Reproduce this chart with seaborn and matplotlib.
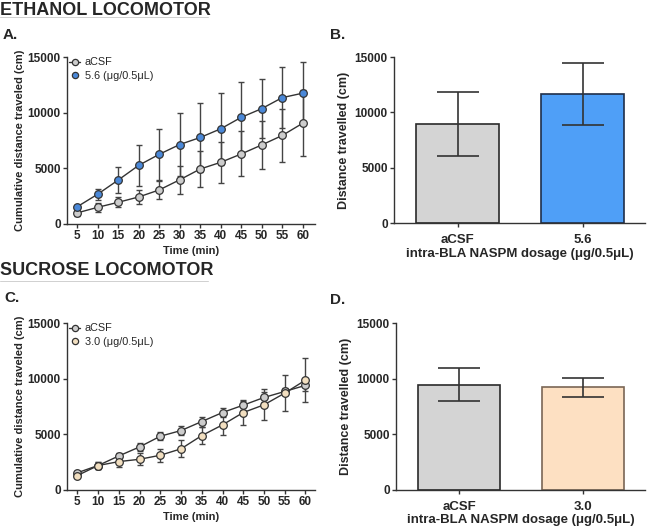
"""
Locomotor figure: cumulative distance (lines) and total distance (bars).
"""

import matplotlib

matplotlib.use("Agg")
import matplotlib.pyplot as plt
import pandas as pd
import seaborn as sns
from matplotlib.lines import Line2D

# ---- data ----
time_min = [5, 10, 15, 20, 25, 30, 35, 40, 45, 50, 55, 60]

eth_acsf_mean = [1000, 1500, 1950, 2430, 3060, 3970, 4940, 5540, 6290, 7100, 7950, 9050]
eth_acsf_sem = [250, 400, 450, 650, 800, 1250, 1660, 1870, 2020, 2140, 2380, 2950]
eth_naspm_mean = [1550, 2680, 3950, 5270, 6260, 7140, 7770, 8550, 9580, 10360, 11350, 11750]
eth_naspm_sem = [150, 480, 1180, 1830, 2280, 2800, 3130, 3250, 3130, 2680, 2710, 2800]

suc_acsf_mean = [1550, 2200, 3060, 3870, 4830, 5340, 6150, 6960, 7620, 8310, 8850, 9400]
suc_acsf_sem = [150, 300, 250, 350, 350, 400, 450, 400, 400, 450, 300, 500]
suc_naspm_mean = [1300, 2200, 2550, 2760, 3120, 3700, 4890, 5850, 6960, 7650, 8700, 9870]
suc_naspm_sem = [150, 300, 450, 550, 600, 750, 800, 900, 1150, 1400, 1600, 1950]

eth_groups = ["aCSF", "5.6"]
eth_bar_mean = [8950, 11650]
eth_bar_sd = [2900, 2800]

suc_groups = ["aCSF", "3.0"]
suc_bar_mean = [9450, 9210]
suc_bar_sd = [1470, 870]

y_ticks = [0, 5000, 10000, 15000]
x_ticks = time_min

DARK = "#333333"
GREY_FACE = "#cdcdcd"
BLUE_FACE = "#4a88d8"
CREAM_FACE = "#f2dfc0"


def style_axis(ax):
    sns.despine(ax=ax)
    for side in ("left", "bottom"):
        ax.spines[side].set_color(DARK)
        ax.spines[side].set_linewidth(1.0)
    ax.set_ylim(0, 15000)
    ax.set_yticks(y_ticks)
    ax.tick_params(axis="both", length=3, width=1, color=DARK, pad=1.5,
                   labelsize=8.5)
    for lab in ax.get_xticklabels() + ax.get_yticklabels():
        lab.set_fontweight("bold")


def plot_cumulative(ax, acsf_mean, acsf_sem, drug_mean, drug_sem, drug_face,
                    drug_label, xmax):
    for mean, sem in ((acsf_mean, acsf_sem), (drug_mean, drug_sem)):
        ax.errorbar(time_min, mean, yerr=sem, fmt="none", ecolor="#444444",
                    elinewidth=1.0, capsize=2.2, capthick=1.0, zorder=1.5)
    df = pd.DataFrame({"time": time_min, "acsf": acsf_mean, "drug": drug_mean})
    sns.lineplot(data=df, x="time", y="acsf", ax=ax, color=DARK, lw=1.0,
                 marker="o", markersize=5.5, markerfacecolor=GREY_FACE,
                 markeredgecolor=DARK, markeredgewidth=0.9, zorder=3)
    sns.lineplot(data=df, x="time", y="drug", ax=ax, color=DARK, lw=1.0,
                 marker="o", markersize=5.5, markerfacecolor=drug_face,
                 markeredgecolor=DARK, markeredgewidth=0.9, zorder=4)
    ax.set_xlim(2.5, xmax)
    ax.set_xticks(x_ticks)
    style_axis(ax)
    ax.set_xlabel("Time (min)", fontsize=8, fontweight="bold", labelpad=3)
    ax.set_ylabel("Cumulative distance traveled (cm)", fontsize=8,
                  fontweight="bold", labelpad=2)
    handles = [
        Line2D([], [], color=DARK, lw=1.0, marker="o", markersize=4.5,
               markerfacecolor=GREY_FACE, markeredgecolor=DARK,
               markeredgewidth=0.9),
        Line2D([], [], color="none", marker="o", markersize=4.5,
               markerfacecolor=drug_face, markeredgecolor=DARK,
               markeredgewidth=0.9),
    ]
    ax.legend(handles, ["aCSF", drug_label], loc="upper left",
              bbox_to_anchor=(0.0, 1.01), frameon=False, fontsize=7.8,
              handlelength=1.0, handletextpad=0.45, labelspacing=0.3,
              borderaxespad=0.0, borderpad=0.2)


def plot_bars(ax, groups, means, sds, faces, edges):
    sns.barplot(x=groups, y=means, hue=groups, palette=faces, legend=False,
                saturation=1, width=0.667, linewidth=1.2, ax=ax, zorder=2)
    for patch, ec in zip(ax.patches, edges):
        patch.set_edgecolor(ec)
    ax.errorbar(range(len(groups)), means, yerr=sds, fmt="none",
                ecolor=DARK, elinewidth=1.2, capsize=15, capthick=1.2,
                zorder=3)
    ax.set_xlim(-0.51, 1.5)
    style_axis(ax)
    ax.tick_params(axis="x", labelsize=9.5, pad=5)
    ax.set_xlabel("intra-BLA NASPM dosage (\u03bcg/0.5\u03bcL)", fontsize=9.5,
                  fontweight="bold", labelpad=1)
    ax.set_ylabel("Distance travelled (cm)", fontsize=9, fontweight="bold",
                  labelpad=3)


sns.set_theme(style="ticks")
plt.rcParams["font.family"] = ["Liberation Sans", "DejaVu Sans"]

fig = plt.figure(figsize=(6.55, 5.26), dpi=100)
W, H = 655.0, 526.0


def add_axes(left, top, right, bottom):
    return fig.add_axes([left / W, 1 - bottom / H, (right - left) / W,
                         (bottom - top) / H])


ax_a = add_axes(67, 57, 315, 224)
ax_b = add_axes(394, 57, 645, 223)
ax_c = add_axes(67, 323, 315, 490)
ax_d = add_axes(396, 323, 645, 490)

plot_cumulative(ax_a, eth_acsf_mean, eth_acsf_sem, eth_naspm_mean,
                eth_naspm_sem, BLUE_FACE, "5.6 (\u03bcg/0.5\u03bcL)", 63.0)
plot_cumulative(ax_c, suc_acsf_mean, suc_acsf_sem, suc_naspm_mean,
                suc_naspm_sem, CREAM_FACE, "3.0 (\u03bcg/0.5\u03bcL)", 62.3)
plot_bars(ax_b, eth_groups, eth_bar_mean, eth_bar_sd,
          ["#d4d4d4", "#4f9ff7"], ["#2a2a2a", "#1f2f4a"])
plot_bars(ax_d, suc_groups, suc_bar_mean, suc_bar_sd,
          ["#d4d4d4", "#fde0c2"], ["#2a2a2a", "#7a6655"])

# section headers and panel letters
fig.text(0.0, 1 - 15 / H, "ETHANOL LOCOMOTOR", fontsize=13, fontweight="bold",
         ha="left", va="baseline")
fig.text(0.0, 1 - 275 / H, "SUCROSE LOCOMOTOR", fontsize=13,
         fontweight="bold", ha="left", va="baseline")
fig.add_artist(Line2D([0, 208 / W], [1 - 17 / H, 1 - 17 / H], color="#d0d0d0",
                      lw=0.7, transform=fig.transFigure))
fig.add_artist(Line2D([0, 208 / W], [1 - 281 / H, 1 - 281 / H],
                      color="#d0d0d0", lw=0.7, transform=fig.transFigure))
for letter, x, y in (("A.", 3, 39), ("B.", 330, 39), ("C.", 4, 302),
                     ("D.", 330, 304)):
    fig.text(x / W, 1 - y / H, letter, fontsize=11, fontweight="bold",
             ha="left", va="baseline")

fig.savefig("out.png", dpi=100)
plt.close(fig)
